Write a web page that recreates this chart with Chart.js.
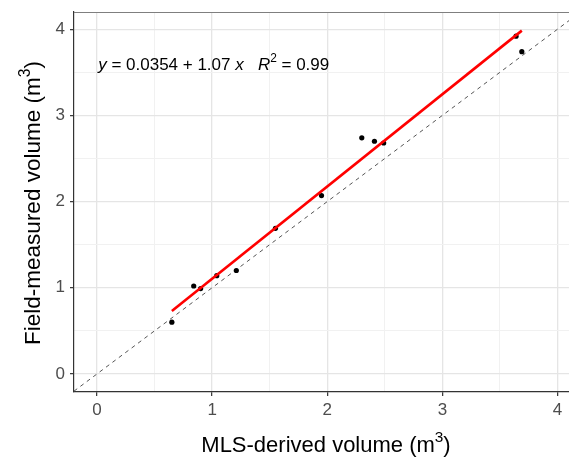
<!DOCTYPE html>
<html>
<head>
<meta charset="utf-8">
<script src="https://cdn.jsdelivr.net/npm/chart.js@4.4.0/dist/chart.umd.min.js"></script>
<style>
html, body { margin: 0; padding: 0; background: #fff; }
#wrap { width: 569px; height: 457px; position: relative; }
</style>
</head>
<body>
<div id="wrap"><canvas id="myChart"></canvas></div>
<script>
// values
var mlsVolume   = [0.65, 0.84, 0.90, 1.04, 1.21, 1.55, 1.95, 2.30, 2.41, 2.49, 3.64, 3.69];
var fieldVolume = [0.60, 1.02, 0.99, 1.14, 1.20, 1.69, 2.07, 2.74, 2.70, 2.68, 3.92, 3.74];
var fitIntercept = 0.0354;
var fitSlope = 1.07;
var rSquared = 0.99;
var xLimits = [-0.2, 4.1];
var yLimits = [-0.21, 4.2];
var tickValues = [0, 0.5, 1, 1.5, 2, 2.5, 3, 3.5, 4];

var fontName = "'Liberation Sans', Arial, sans-serif";

var points = mlsVolume.map(function(v, i){ return {x: v, y: fieldVolume[i]}; });
var xMin = Math.min.apply(null, mlsVolume), xMax = Math.max.apply(null, mlsVolume);
var fitLine = [xMin, xMax].map(function(v){ return {x: v, y: fitIntercept + fitSlope * v}; });
var oneToOne = [xLimits[0], xLimits[1]].map(function(v){ return {x: v, y: v}; });

function isMajor(v){ return Math.abs(v - Math.round(v)) < 1e-9; }

/*
    draws a string made of pieces (italic, superscript)
*/
function drawParts(ctx, parts, x, y, size, align){
    var total = 0;
    parts.forEach(function(p){
        var s = p.sup ? size * 0.7 : size;
        ctx.font = (p.italic ? 'italic ' : '') + s + 'px ' + fontName;
        p.w = ctx.measureText(p.text).width;
        total += p.w;
    });
    var cx = align === 'center' ? x - total / 2 : x;
    parts.forEach(function(p){
        var s = p.sup ? size * 0.7 : size;
        ctx.font = (p.italic ? 'italic ' : '') + s + 'px ' + fontName;
        ctx.fillText(p.text, cx, p.sup ? y - size * 0.45 : y);
        cx += p.w;
    });
}

var textPlugin = {
    id: 'texts',
    afterDraw: function(chart){
        var ctx = chart.ctx;
        var area = chart.chartArea;
        ctx.save();
        // top border
        ctx.strokeStyle = '#7f7f7f';
        ctx.lineWidth = 1;
        ctx.beginPath();
        ctx.moveTo(area.left, area.top + 0.5);
        ctx.lineTo(area.right, area.top + 0.5);
        ctx.stroke();

        ctx.fillStyle = '#000';
        ctx.textBaseline = 'alphabetic';
        ctx.textAlign = 'left';
        // x axis title
        drawParts(ctx, [
            {text: 'MLS-derived volume (m'}, {text: '3', sup: true}, {text: ')'}
        ], 326, 452, 22, 'center');
        // y axis title
        ctx.save();
        ctx.translate(40, 203);
        ctx.rotate(-Math.PI / 2);
        drawParts(ctx, [
            {text: 'Field-measured volume (m'}, {text: '3', sup: true}, {text: ')'}
        ], 0, 0, 22.5, 'center');
        ctx.restore();
        // equation
        var xs = chart.scales.x, ys = chart.scales.y;
        drawParts(ctx, [
            {text: 'y', italic: true}, {text: ' = ' + fitIntercept + ' + ' + fitSlope + ' '},
            {text: 'x', italic: true}, {text: '   '},
            {text: 'R', italic: true}, {text: '2', sup: true}, {text: ' = ' + rSquared}
        ], xs.getPixelForValue(0.01), ys.getPixelForValue(3.53), 17, 'left');
        ctx.restore();
    }
};

function axisOptions(limits, isX){
    return {
        type: 'linear',
        min: limits[0],
        max: limits[1],
        afterBuildTicks: function(axis){
            axis.ticks = tickValues.map(function(v){ return {value: v}; });
        },
        afterFit: function(axis){
            if (isX) axis.height = 65; else axis.width = 74;
            axis.paddingLeft = axis.paddingRight = axis.paddingTop = axis.paddingBottom = 0;
        },
        border: {display: true, color: '#333333', width: 1.2},
        grid: {
            color: function(c){ return isMajor(c.tick.value) ? '#e5e5e5' : '#f1f1f1'; },
            lineWidth: function(c){ return isMajor(c.tick.value) ? 1.3 : 1; },
            tickColor: function(c){ return isMajor(c.tick.value) ? '#333333' : 'rgba(0,0,0,0)'; },
            tickLength: 4,
            tickWidth: 1.2
        },
        ticks: {
            autoSkip: false,
            maxRotation: 0,
            padding: isX ? 4 : 5,
            color: '#4d4d4d',
            font: {family: fontName, size: 17},
            callback: function(v){ return isMajor(v) ? String(v) : ''; }
        }
    };
}

var canvas = document.getElementById('myChart').getContext('2d');
var myChart = new Chart(canvas, {
    type: 'scatter',
    data: {
        datasets: [{
            type: 'line',
            label: 'fit',
            data: fitLine,
            borderColor: '#ff0000',
            borderWidth: 2.6,
            pointRadius: 0,
            fill: false,
            order: 0
        }, {
            type: 'scatter',
            label: 'trees',
            data: points,
            backgroundColor: '#000000',
            borderWidth: 0,
            pointRadius: 2.6,
            order: 1
        }, {
            type: 'line',
            label: '1:1',
            data: oneToOne,
            borderColor: '#555555',
            borderWidth: 1,
            borderDash: [4, 4],
            pointRadius: 0,
            fill: false,
            order: 2
        }]
    },
    options: {
        responsive: true,
        maintainAspectRatio: false,
        animation: false,
        layout: {autoPadding: false, padding: {left: 0, right: 0, top: 12, bottom: 0}},
        plugins: {legend: {display: false}, tooltip: {enabled: false}},
        scales: {
            x: axisOptions(xLimits, true),
            y: axisOptions(yLimits, false)
        }
    },
    plugins: [textPlugin]
});
</script>
</body>
</html>
